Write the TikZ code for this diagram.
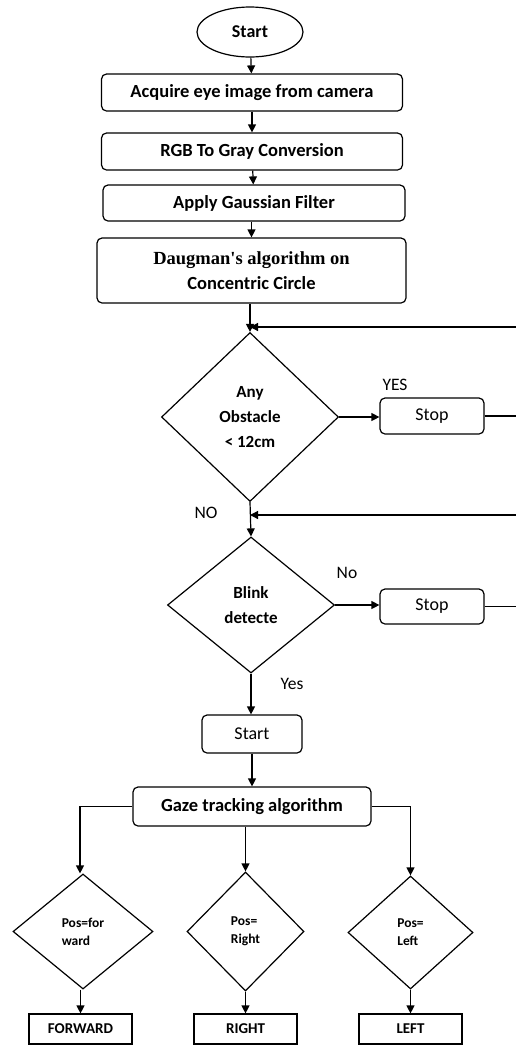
\documentclass[tikz,border=0pt]{standalone}
\usepackage{fontspec}
\setmainfont{Carlito}
\newfontfamily\tms{Liberation Serif}
\usetikzlibrary{shapes.geometric,arrows.meta}
\tikzset{
  every node/.style={inner sep=0pt},
  boxr/.style={draw, rounded corners=5pt, line width=1.2pt, font=\fontsize{18.5}{25}\selectfont\bfseries, align=center},
  stopbox/.style={draw, rounded corners=5pt, line width=1.2pt, minimum width=104pt, minimum height=36pt, font=\fontsize{18}{22}\selectfont},
  dec/.style={draw, diamond, line width=1.2pt, align=center, font=\fontsize{17}{25}\selectfont\bfseries},
  decs/.style={draw, diamond, line width=1.2pt, align=left, font=\fontsize{13.5}{18}\selectfont\bfseries},
  outbox/.style={draw, line width=1.2pt, minimum width=103pt, minimum height=30pt, font=\fontsize{15}{18}\selectfont\bfseries},
  lbl/.style={font=\fontsize{17.5}{20}\selectfont},
  conn/.style={line width=1.2pt},
  arr/.style={line width=1.2pt, -{Triangle[length=8pt,width=8pt]}}
}
\begin{document}
\begin{tikzpicture}[x=1pt,y=-1pt]
\useasboundingbox (0,0) rectangle (516,1045);
% top chain
\node[draw, ellipse, line width=1.2pt, minimum width=106pt, minimum height=50pt, font=\fontsize{18}{20}\selectfont\bfseries] (start) at (250,32) {Start};
\node[boxr, minimum width=301pt, minimum height=37pt] (acq) at (252,92.5) {Acquire eye image from camera};
\node[boxr, minimum width=301pt, minimum height=37pt] (rgb) at (252,151.5) {RGB To Gray Conversion};
\node[boxr, minimum width=302pt, minimum height=36pt] (gauss) at (254,203) {Apply Gaussian Filter};
\node[boxr, minimum width=309pt, minimum height=65pt] (daug) at (251.5,270.5) {{\tms Daugman's algorithm on}\\Concentric Circle};
% decisions
\node[dec, minimum width=177pt, minimum height=169pt] (obs) at (250,417) {Any\\Obstacle\\< 12cm};
\node[stopbox] (stop1) at (432,416) {Stop};
\node[dec, minimum width=167pt, minimum height=136pt] (blink) at (251,605) {Blink\\detecte};
\node[stopbox, minimum height=35pt] (stop2) at (432,606.5) {Stop};
% junctions and free ends
\coordinate (j1) at (250,327);
\coordinate (e1) at (516,327);
\coordinate (e2) at (516,416);
\coordinate (j2) at (250,515);
\coordinate (e3) at (516,515);
\coordinate (e4) at (516,606.5);
% lower part
\node[boxr, font=\fontsize{18}{20}\selectfont, minimum width=100pt, minimum height=38pt] (start2) at (252,734) {Start};
\node[boxr, minimum width=238pt, minimum height=39pt] (gaze) at (252,806.5) {Gaze tracking algorithm};
\node[decs, minimum width=140pt, minimum height=115pt] (dF) at (83,931.5) {Pos=for\\ward};
\node[decs, minimum width=117pt, minimum height=119pt] (dR) at (245.5,931.5) {Pos=\\Right};
\node[decs, minimum width=125pt, minimum height=113pt] (dL) at (410.5,932.5) {Pos=\\Left};
\node[outbox] (bF) at (80.5,1029) {FORWARD};
\node[outbox] (bR) at (245.5,1029) {RIGHT};
\node[outbox] (bL) at (410.5,1029) {LEFT};
% labels
\node[lbl] (lyes) at (395,385) {YES};
\node[lbl] (lno) at (206,513) {NO};
\node[lbl] (lno2) at (347,573) {No};
\node[lbl] (lyes2) at (292,684) {Yes};
% connectors
\draw[arr] (start) -- (acq);
\draw[arr] (acq) -- (rgb);
\draw[arr] (rgb) -- (gauss);
\draw[arr] (gauss.south -| daug.north) -- (daug.north);
\draw[arr] (daug.south -| obs.north) -- (obs.north);
\draw[arr] (e1) -- (j1);
\draw[arr] (obs.east) -- (stop1.west |- obs.east);
\draw[conn] (stop1.east) -- (e2);
\draw[arr] (obs.south) -- (blink.north);
\draw[arr] (e3) -- (j2);
\draw[arr] (blink.east) -- (stop2.west |- blink.east);
\draw[conn] (stop2.east) -- (e4);
\draw[arr] (blink.south) -- (start2.north -| blink.south);
\draw[arr] (start2) -- (gaze);
\draw[arr] (gaze.west) -| ([xshift=-3pt]dF.north);
\draw[arr] (gaze.south -| dR.north) -- (dR.north);
\draw[arr] (gaze.east) -| (dL.north);
\draw[arr] (dF.south -| bF.north) -- (bF.north);
\draw[arr] (dR) -- (bR);
\draw[arr] (dL) -- (bL);
\end{tikzpicture}
\end{document}
